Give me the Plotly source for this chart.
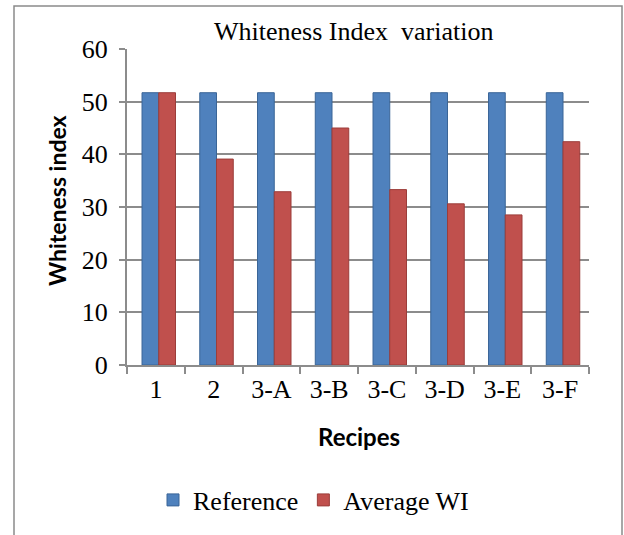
import plotly.graph_objects as go

recipes = ["1", "2", "3-A", "3-B", "3-C", "3-D", "3-E", "3-F"]
reference = [51.7, 51.7, 51.7, 51.7, 51.7, 51.7, 51.7, 51.7]
average_wi = [51.7, 39.1, 32.9, 45.0, 33.3, 30.6, 28.5, 42.4]
y_ticks = [0, 10, 20, 30, 40, 50, 60]

L, R, T, B = 127, 35, 49, 170
W, H = 624, 535
pw, ph = W - L - R, H - T - B

def px(x):
    return (x - L) / pw

def py(y):
    return (H - B - y) / ph

fig = go.Figure()
fig.add_trace(go.Bar(
    x=recipes, y=reference, name="Reference",
    marker=dict(color="#4F81BD", line=dict(color="#3A6597", width=1)),
    width=0.29, offset=-0.24,
))
fig.add_trace(go.Bar(
    x=recipes, y=average_wi, name="Average WI",
    marker=dict(color="#C0504D", line=dict(color="#9B3D3A", width=1)),
    width=0.29, offset=0.05,
))

serif = "Liberation Serif, Times New Roman, serif"
sans = "Lato, Open Sans, sans-serif"

fig.update_layout(
    width=W, height=H,
    margin=dict(l=L, r=R, t=T, b=B),
    paper_bgcolor="white", plot_bgcolor="white",
    barmode="overlay",
    showlegend=True,
    legend=dict(
        orientation="h", x=px(153), xanchor="left", y=py(500), yanchor="middle",
        font=dict(family=serif, size=26, color="black"),
        itemwidth=30,
    ),
    xaxis=dict(
        type="category", tickson="boundaries", ticks="outside", ticklen=7,
        tickcolor="#8c8c8c", tickwidth=2,
        showline=True, linecolor="#8c8c8c", linewidth=2,
        tickfont=dict(family=serif, size=26, color="black"),
        showgrid=False,
    ),
    yaxis=dict(
        range=[0, 60], tickvals=y_ticks, ticks="outside", ticklen=6,
        tickcolor="#8c8c8c", tickwidth=2,
        showline=True, linecolor="#8c8c8c", linewidth=2,
        showgrid=True, gridcolor="#8c8c8c", gridwidth=2,
        tickfont=dict(family=serif, size=26, color="black"),
        ticklabelstandoff=6,
        zeroline=False,
    ),
    annotations=[
        dict(text="Whiteness Index  variation", x=px(353), y=py(32), xref="paper", yref="paper",
             showarrow=False, xanchor="center", yanchor="middle",
             font=dict(family=serif, size=26, color="black")),
        dict(text="<b>Whiteness index</b>", x=px(57), y=py(201), xref="paper", yref="paper",
             showarrow=False, textangle=-90, xanchor="center", yanchor="middle",
             font=dict(family=sans, size=23, color="black")),
        dict(text="<b>Recipes</b>", x=px(359), y=py(437), xref="paper", yref="paper",
             showarrow=False, xanchor="center", yanchor="middle",
             font=dict(family=sans, size=24, color="black")),
    ],
    shapes=[
        dict(type="rect", xref="paper", yref="paper",
             x0=px(14), x1=px(622), y0=py(6), y1=py(545),
             line=dict(color="#8a8a8a", width=1.5), layer="below"),
    ],
)

fig.write_html("out.html")
